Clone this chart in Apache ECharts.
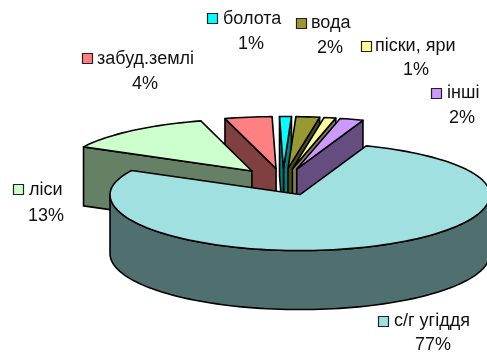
<!DOCTYPE html>
<html>
<head>
<meta charset="utf-8">
<title>Структура земельного фонду</title>
<style>
  html, body { margin: 0; padding: 0; background: #fff; }
  #chart { width: 487px; height: 353px; }
</style>
<script src="https://cdn.jsdelivr.net/npm/echarts@6/dist/echarts.min.js"></script>
</head>
<body>
<div id="chart"></div>
<script>
// Land use shares, listed counter-clockwise from the top of the pie.
const categories = ['забуд.землі', 'ліси', 'с/г угіддя', 'інші', 'піски, яри', 'вода', 'болота'];
const shares = [4, 13, 77, 2, 1, 2, 1];

// Slice colours: top face and the darker side wall.
const topColors = ['#FF8080', '#CCFFCC', '#A1E0E1', '#CC99FF', '#FFFF99', '#999933', '#00FFFF'];
const sideColors = ['#804040', '#668066', '#507070', '#664D80', '#808050', '#4D4D1A', '#008080'];

// Painter's order: rear slices first, the large front slice last.
const paintOrder = [6, 5, 4, 3, 0, 1, 2];

// Projection of the tilted disc, in pixels.
const pie = { cx: 283, cy: 181.5, rx: 190, ryBack: 52, ryFront: 56, depth: 59, startDeg: 91.2 };
const explodeBySlice = [0.25, 0.26, 0.25, 0.25, 0.25, 0.25, 0.25];

// Legend key and percentage positions for each category.
const labelBoxes = [
  { keyX: 82, keyY: 53, textX: 97, textY: 59, pctX: 145, pctY: 84 },
  { keyX: 13, keyY: 184, textX: 29, textY: 190, pctX: 46, pctY: 216 },
  { keyX: 378, keyY: 316, textX: 394, textY: 321, pctX: 433, pctY: 345 },
  { keyX: 431, keyY: 88, textX: 447, textY: 93, pctX: 462, pctY: 118 },
  { keyX: 361, keyY: 41, textX: 375, textY: 46, pctX: 416, pctY: 70 },
  { keyX: 296, keyY: 18, textX: 311, textY: 23, pctX: 330, pctY: 48 },
  { keyX: 207, keyY: 13, textX: 223, textY: 19, pctX: 251, pctY: 44 }
];

const FONT = '18px "Liberation Sans", Arial, sans-serif';
const total = shares.reduce((a, b) => a + b, 0);
const rad = (d) => d * Math.PI / 180;

// Angular span of every slice, counter-clockwise in degrees.
const spans = [];
shares.reduce((start, v) => {
  const end = start + v / total * 360;
  spans.push([start, end]);
  return end;
}, pie.startDeg);

// Offset on the disc: the front half is drawn slightly larger than the rear half.
function project(deg, r) {
  const s = Math.sin(rad(deg));
  return [r * pie.rx * Math.cos(rad(deg)), -r * (s >= 0 ? pie.ryBack : pie.ryFront) * s];
}

function arcPoints(apex, a0, a1) {
  const pts = [];
  const n = Math.max(2, Math.ceil(Math.abs(a1 - a0) / 2));
  for (let i = 0; i <= n; i++) {
    const p = project(a0 + (a1 - a0) * i / n, 1);
    pts.push([apex[0] + p[0], apex[1] + p[1]]);
  }
  return pts;
}

function poly(points, fill) {
  return {
    type: 'polygon',
    shape: { points },
    style: { fill, stroke: '#000', lineWidth: 1.6, lineJoin: 'round' }
  };
}

function wall(apex, rimPoint, fill) {
  return poly([apex, rimPoint,
    [rimPoint[0], rimPoint[1] + pie.depth],
    [apex[0], apex[1] + pie.depth]], fill);
}

function renderSlice(params, api) {
  const idx = api.value(0);
  const [a0, a1] = spans[idx];
  const mid = (a0 + a1) / 2;
  const off = project(mid, explodeBySlice[idx]);
  const apex = [pie.cx + off[0], pie.cy + off[1]];
  const children = [];
  const side = sideColors[idx];

  // Radial cut faces that turn toward the viewer.
  if (Math.sin(rad(a0 - 90)) < 0) {
    children.push(wall(apex, arcPoints(apex, a0, a0)[0], side));
  }
  if (Math.sin(rad(a1 + 90)) < 0) {
    children.push(wall(apex, arcPoints(apex, a1, a1)[0], side));
  }

  // Outer rim over the part of the arc on the near side of the disc.
  for (const k of [0, 360]) {
    const from = Math.max(a0, 180 + k);
    const to = Math.min(a1, 360 + k);
    if (to > from) {
      const upper = arcPoints(apex, from, to);
      const lower = upper.slice().reverse().map((p) => [p[0], p[1] + pie.depth]);
      children.push(poly(upper.concat(lower), side));
    }
  }

  // Top face.
  children.push(poly([apex].concat(arcPoints(apex, a0, a1)), topColors[idx]));
  return { type: 'group', children };
}

function renderLabel(params, api) {
  const idx = api.value(0);
  const b = labelBoxes[idx];
  return {
    type: 'group',
    children: [
      {
        type: 'rect',
        shape: { x: b.keyX + 0.5, y: b.keyY + 0.5, width: 10, height: 10 },
        style: { fill: topColors[idx], stroke: '#222', lineWidth: 1.2 }
      },
      {
        type: 'text',
        style: { x: b.textX, y: b.textY, text: categories[idx], font: FONT, fill: '#111', textAlign: 'left', textVerticalAlign: 'middle' }
      },
      {
        type: 'text',
        style: { x: b.pctX, y: b.pctY, text: api.value(1) + '%', font: FONT, fill: '#111', textAlign: 'center', textVerticalAlign: 'middle' }
      }
    ]
  };
}

const sliceRows = paintOrder.map((i) => [i, shares[i]]);
const labelRows = categories.map((c, i) => [i, shares[i]]);

const chart = echarts.init(document.getElementById('chart'), null, { renderer: 'canvas' });
chart.setOption({
  animation: false,
  backgroundColor: '#fff',
  series: [
    { type: 'custom', coordinateSystem: 'none', silent: true, data: sliceRows, renderItem: renderSlice, z: 2 },
    { type: 'custom', coordinateSystem: 'none', silent: true, data: labelRows, renderItem: renderLabel, z: 3 }
  ]
});
</script>
</body>
</html>
